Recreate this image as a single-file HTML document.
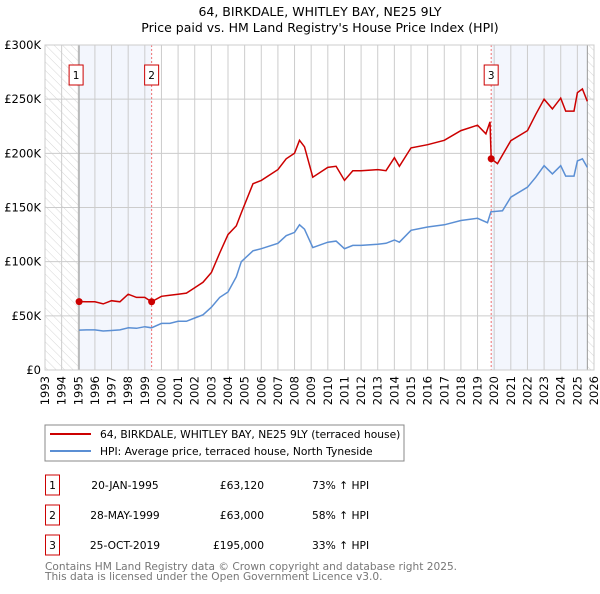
<!DOCTYPE html>
<html><head><meta charset="utf-8"><style>
body{margin:0;background:#fff;font-family:"DejaVu Sans","Liberation Sans",sans-serif;}
svg text{font-family:"DejaVu Sans","Liberation Sans",sans-serif;}
</style></head><body>
<svg id="c" width="600" height="590" viewBox="0 0 600 590">
<defs><pattern id="hatch" width="6" height="6" patternUnits="userSpaceOnUse" patternTransform="rotate(-45)"><line x1="0" y1="0" x2="0" y2="6" stroke="#ccc" stroke-width="0.8"/></pattern></defs>
<text x="320" y="16" text-anchor="middle" font-size="12.5">64, BIRKDALE, WHITLEY BAY, NE25 9LY</text>
<text x="320" y="32" text-anchor="middle" font-size="12.5">Price paid vs. HM Land Registry's House Price Index (HPI)</text>
<g id="plot"></g>
<rect x="45" y="425" width="359" height="36" fill="#fff" stroke="#888"/>
<line x1="50" y1="434" x2="91" y2="434" stroke="#cc0000" stroke-width="2"/>
<text x="100" y="438" font-size="10.7">64, BIRKDALE, WHITLEY BAY, NE25 9LY (terraced house)</text>
<line x1="50" y1="451" x2="91" y2="451" stroke="#5b8fd4" stroke-width="2"/>
<text x="100" y="455" font-size="10.7">HPI: Average price, terraced house, North Tyneside</text>
<g id="tbl" font-size="10.7"></g>
<text x="45" y="570" font-size="10.6" fill="#777">Contains HM Land Registry data © Crown copyright and database right 2025.</text>
<text x="45" y="580" font-size="10.6" fill="#777">This data is licensed under the Open Government Licence v3.0.</text>
</svg>
<script>
const hpiYears=[1995.05,1995.5,1996,1996.5,1997,1997.5,1998,1998.5,1999,1999.4,2000,2000.5,2001,2001.5,2002,2002.5,2003,2003.5,2004,2004.5,2004.8,2005.5,2006,2007,2007.5,2008,2008.3,2008.6,2009.1,2010,2010.5,2011,2011.5,2012,2013,2013.5,2014,2014.3,2015,2016,2017,2018,2019,2019.6,2019.8,2020.5,2021,2022,2022.5,2023,2023.5,2024,2024.3,2024.8,2025,2025.3,2025.6];
const hpiValues=[36.8,37,37,36,36.5,37,39,38.5,40,39,43,43,45,45,48,51,58,67,72,86,100,110,112,117,124,127,134,130,113,118,119,112,115,115,116,117,120,118,129,132,134,138,140,136,146,147,159.5,168.7,178,188.6,181,188.6,179,179,193,195,187];
const redYears=[1995.05,1995.5,1996,1996.5,1997,1997.5,1998,1998.5,1999,1999.4,2000,2000.5,2001,2001.5,2002,2002.5,2003,2003.5,2004,2004.5,2004.8,2005.5,2006,2007,2007.5,2008,2008.3,2008.6,2009.1,2010,2010.5,2011,2011.5,2012,2013,2013.5,2014,2014.3,2015,2016,2017,2018,2019,2019.5,2019.75,2019.82,2020.2,2021,2022,2022.5,2023,2023.5,2024,2024.3,2024.8,2025,2025.3,2025.6];
const redValues=[63.1,63,63,61,64,63,70,67,67,63,68,69,70,71,76,81,90,108,125,133,145,172,175,185,195,200,212,206,178,187,188,175,184,184,185,184,196,188,205,208,212,221,226,218,229,195,190.5,211.7,221,236,250,241,251,239,239,256,259.5,248];
const saleYears=[1995.05,1999.41,2019.82];
const saleValues=[63.12,63,195];
const saleDates=["20-JAN-1995","28-MAY-1999","25-OCT-2019"];
const salePrices=["£63,120","£63,000","£195,000"];
const saleHpi=["73% ↑ HPI","58% ↑ HPI","33% ↑ HPI"];
const yTicks=[0,50,100,150,200,250,300];
const yTickLabels=["£0","£50K","£100K","£150K","£200K","£250K","£300K"];
const xTicks=[1993,1994,1995,1996,1997,1998,1999,2000,2001,2002,2003,2004,2005,2006,2007,2008,2009,2010,2011,2012,2013,2014,2015,2016,2017,2018,2019,2020,2021,2022,2023,2024,2025,2026];
const dataEnd=2025.6;
const X0=45,X1=594,Y0=370,Y1=45;
const xs=v=>X0+(v-1993)/33*(X1-X0);
const ys=v=>Y0-v/300*(Y0-Y1);
const NS="http://www.w3.org/2000/svg";
const plot=document.getElementById('plot');
function mk(tag,attrs,parent){const e=document.createElementNS(NS,tag);for(const k in attrs)e.setAttribute(k,attrs[k]);(parent||plot).appendChild(e);return e;}
let e;
e=mk('rect',{x:X0,y:Y1,width:X1-X0,height:Y0-Y1,fill:'#fff'});


e=mk('rect',{x:xs(1993),y:Y1,width:xs(saleYears[0])-xs(1993),height:Y0-Y1,fill:'url(#hatch)'});


e=mk('rect',{x:xs(dataEnd),y:Y1,width:xs(2026)-xs(dataEnd),height:Y0-Y1,fill:'url(#hatch)'});


e=mk('rect',{x:xs(saleYears[0]),y:Y1,width:xs(saleYears[1])-xs(saleYears[0]),height:Y0-Y1,fill:'#f3f6fd'});


e=mk('rect',{x:xs(saleYears[2]),y:Y1,width:xs(dataEnd)-xs(saleYears[2]),height:Y0-Y1,fill:'#f3f6fd'});


xTicks.forEach(t=>{
 e=mk('line',{x1:xs(t),x2:xs(t),y1:Y1,y2:Y0,stroke:'#ccc','stroke-width':1});
 
 
 e=mk('text',{transform:`translate(${xs(t)+4},${Y0+6}) rotate(-90)`,'text-anchor':'end','font-size':11.5});
 e.textContent=t;
 
 
});
yTicks.forEach((t,i)=>{
 e=mk('line',{x1:X0,x2:X1,y1:ys(t),y2:ys(t),stroke:'#ccc','stroke-width':1});
 
 
 e=mk('text',{x:X0-4,y:ys(t)+4,'text-anchor':'end','font-size':11.5});
 e.textContent=yTickLabels[i];
 
 
});
e=mk('line',{x1:xs(saleYears[0]),x2:xs(saleYears[0]),y1:Y1,y2:Y0,stroke:'#999','stroke-width':1});


e=mk('line',{x1:xs(dataEnd),x2:xs(dataEnd),y1:Y1,y2:Y0,stroke:'#999','stroke-width':1});


[1,2].forEach(i=>{
 e=mk('line',{x1:xs(saleYears[i]),x2:xs(saleYears[i]),y1:Y1,y2:Y0,stroke:'#f07070','stroke-width':1,'stroke-dasharray':'2,2'});
 
 
});
const pts=(xa,va)=>xa.map((x,i)=>xs(x).toFixed(1)+','+ys(va[i]).toFixed(1)).join(' ');
e=mk('polyline',{points:pts(hpiYears,hpiValues),fill:'none',stroke:'#5b8fd4','stroke-width':1.5});


e=mk('polyline',{points:pts(redYears,redValues),fill:'none',stroke:'#cc0000','stroke-width':1.5});


saleYears.forEach((y,i)=>{
 e=mk('circle',{cx:xs(y),cy:ys(saleValues[i]),r:3.5,fill:'#cc0000'});
 
 
 const cx=xs(y)-(i==0?3:0);
 e=mk('rect',{x:cx-7,y:65,width:14,height:20,fill:'#fff',stroke:'#cc0000'});
 
 
 e=mk('text',{x:cx,y:79,'text-anchor':'middle','font-size':10.5});
 e.textContent=String(i+1);
 
 
});
e=mk('rect',{x:X0,y:Y1,width:X1-X0,height:Y0-Y1,fill:'none',stroke:'#ccc'});


const tbl=document.getElementById('tbl');
saleDates.forEach((d,i)=>{
 const yy=475+i*30;
 e=mk('rect',{x:45.5,y:yy,width:14,height:20,fill:'#fff',stroke:'#cc0000'},tbl);
 
 
 e=mk('text',{x:52.5,y:yy+14,'text-anchor':'middle'},tbl);
 e.textContent=String(i+1);
 
 
 e=mk('text',{x:125,y:yy+14,'text-anchor':'middle'},tbl);
 e.textContent=d;
 
 
 e=mk('text',{x:264,y:yy+14,'text-anchor':'end'},tbl);
 e.textContent=salePrices[i];
 
 
 e=mk('text',{x:312,y:yy+14},tbl);
 e.textContent=saleHpi[i];
 
 
});
</script>
</body></html>
